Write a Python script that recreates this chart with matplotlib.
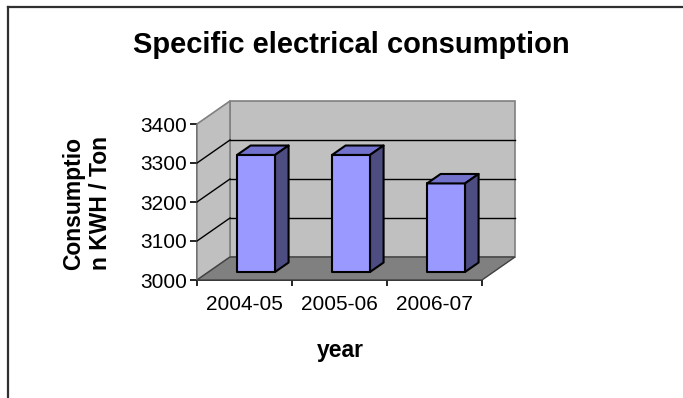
import matplotlib
matplotlib.use("Agg")
import matplotlib.pyplot as plt
from matplotlib.patches import Polygon
from matplotlib.lines import Line2D
from matplotlib.transforms import IdentityTransform

# ---- data ----
categories = ["2004-05", "2005-06", "2006-07"]
values = [3300, 3300, 3227]
y_ticks = [3000, 3100, 3200, 3300, 3400]
title = "Specific electrical consumption"
x_label = "year"
y_label = "Consumptio\nn KWH / Ton"

plt.rcParams['font.family'] = ['Liberation Sans', 'DejaVu Sans']

W, H = 683, 398
fig = plt.figure(figsize=(W / 100, H / 100), dpi=100)
fig.patch.set_facecolor("white")

# front plane of the 3D box
ax = fig.add_axes([197 / W, (H - 280) / H, 285 / W, 156 / H])
ax.set_facecolor("none")
n = len(categories)
ax.set_xlim(-0.5, n - 0.5)
ax.set_ylim(y_ticks[0], y_ticks[-1])

DX, DY = 33.0, 23.0  # full depth offset in pixels
fig.canvas.draw()


def P(x, y, d):
    px, py = ax.transData.transform((x, y))
    return (px + d * DX, py + d * DY)


def poly(pts, **kw):
    p = Polygon([P(*q) for q in pts], closed=True, transform=IdentityTransform(),
                clip_on=False, **kw)
    fig.add_artist(p)
    return p


def line(p1, p2, **kw):
    a, b = P(*p1), P(*p2)
    l = Line2D([a[0], b[0]], [a[1], b[1]], transform=IdentityTransform(), **kw)
    fig.add_artist(l)


x0, x1 = -0.5, n - 0.5
y0, y1 = y_ticks[0], y_ticks[-1]
wall_c = "#C0C0C0"
edge_c = "#808080"

# back wall
poly([(x0, y0, 1), (x1, y0, 1), (x1, y1, 1), (x0, y1, 1)],
     facecolor=wall_c, edgecolor=edge_c, lw=1.2, zorder=0.5)
# left wall
poly([(x0, y0, 0), (x0, y1, 0), (x0, y1, 1), (x0, y0, 1)],
     facecolor=wall_c, edgecolor=edge_c, lw=1.2, zorder=0.5)
# gridlines
for v in y_ticks[1:-1]:
    line((x0, v, 1), (x1, v, 1), color="black", lw=1.0, zorder=0.6)
    line((x0, v, 0), (x0, v, 1), color="black", lw=1.0, zorder=0.6)
# floor
poly([(x0, y0, 0), (x1, y0, 0), (x1, y0, 1), (x0, y0, 1)],
     facecolor="#808080", edgecolor="#404040", lw=1.0, zorder=0.7)

# bars
d0, d1 = 0.35, 0.76
bw = 0.4
for i, v in enumerate(values):
    a, b = i - bw / 2, i + bw / 2
    poly([(a, y0, d0), (b, y0, d0), (b, v, d0), (a, v, d0)],
         facecolor="#9999FF", edgecolor="black", lw=1.5, joinstyle="round", zorder=3)
    poly([(a, v, d0), (b, v, d0), (b, v, d1), (a, v, d1)],
         facecolor="#7272CC", edgecolor="black", lw=1.5, joinstyle="round", zorder=3)
    poly([(b, y0, d0), (b, y0, d1), (b, v, d1), (b, v, d0)],
         facecolor="#4D4D82", edgecolor="black", lw=1.5, joinstyle="round", zorder=3)

# axes
for s in ["top", "right"]:
    ax.spines[s].set_visible(False)
for s in ["left", "bottom"]:
    ax.spines[s].set_linewidth(1.2)
    ax.spines[s].set_color("black")
    ax.spines[s].set_zorder(4)

ax.set_yticks(y_ticks)
ax.set_yticklabels([str(t) for t in y_ticks], fontsize=15)
ax.tick_params(axis="y", direction="out", length=5, width=1.2, pad=2)

ax.set_xticks([i - 0.5 for i in range(n + 1)])
ax.set_xticklabels([])
ax.tick_params(axis="x", which="major", direction="out", length=4.5, width=1.2)
ax.set_xticks(list(range(n)), minor=True)
ax.set_xticklabels(categories, minor=True, fontsize=15)
ax.tick_params(axis="x", which="minor", length=0, pad=11)

# texts
fig.text(351 / W, (H - 53) / H, title, ha="center", va="baseline",
         fontsize=21, fontweight="bold")
fig.text(340 / W, (H - 351) / H, x_label, ha="center", va="center",
         fontsize=16.5, fontweight="bold")
fig.text(87 / W, (H - 203) / H, y_label, ha="center", va="center",
         rotation=90, multialignment="center", fontsize=16.5, fontweight="bold")

# outer frame (top and left)
fig.add_artist(Line2D([7.5 / W, 1.0], [(H - 6.5) / H] * 2, transform=fig.transFigure,
                      color="#303030", lw=1.6))
fig.add_artist(Line2D([7.5 / W] * 2, [0.0, (H - 6.5) / H], transform=fig.transFigure,
                      color="#303030", lw=1.6))

fig.savefig("out.png", dpi=100)
